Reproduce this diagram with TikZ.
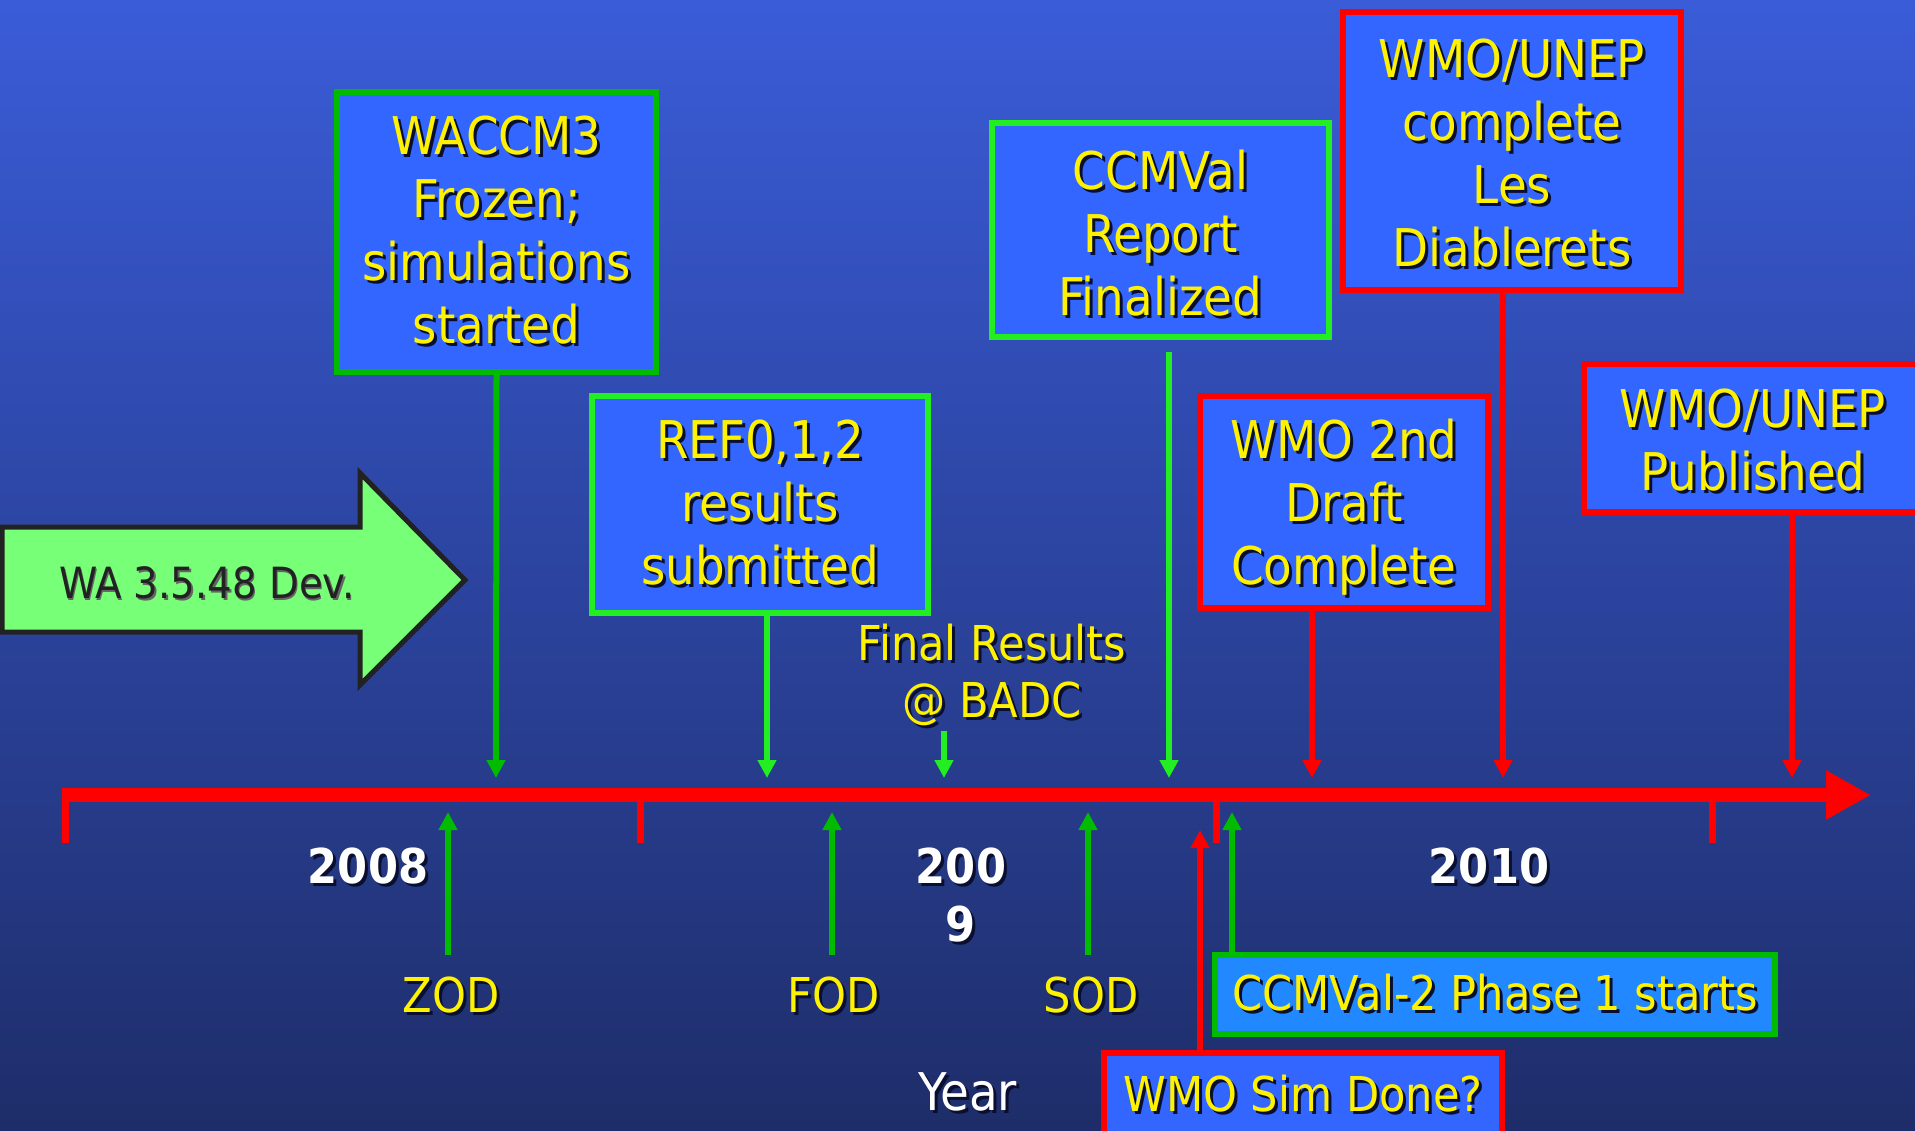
\documentclass[tikz,border=0pt]{standalone}
\usepackage{fontspec}
\setmainfont{DejaVu Sans Condensed}
\usetikzlibrary{arrows.meta}

\definecolor{bgtop}{HTML}{3A5CD8}
\definecolor{bgbot}{HTML}{1E2D69}
\definecolor{boxblue}{HTML}{3366FF}
\definecolor{lightblue}{HTML}{2288FF}
\definecolor{brightgreen}{HTML}{22EE22}
\definecolor{darkgreen}{HTML}{00BB00}
\definecolor{devgreen}{HTML}{77FF77}
\definecolor{devline}{HTML}{222222}
\definecolor{shadowc}{HTML}{0A0F30}

% text with a small drop shadow
\newcommand{\sh}[1]{\leavevmode\rlap{\kern1.5pt\raisebox{-1.5pt}{\textcolor{shadowc}{#1}}}#1}
\newcommand{\dsh}[1]{\leavevmode\rlap{\kern0.8pt\raisebox{-0.8pt}{\textcolor{devline!70}{#1}}}#1}

\tikzset{
  evt/.style={draw, line width=3pt, fill=boxblue, text=yellow, align=center,
    inner sep=0pt, font=\fontsize{26}{31.5}\selectfont},
  gevt/.style={evt, draw=brightgreen},
  devt/.style={evt, draw=darkgreen},
  revt/.style={evt, draw=red},
  lbl/.style={text=yellow, align=center, inner sep=1pt, font=\fontsize{24}{28.5}\selectfont},
  yr/.style={text=white, align=center, inner sep=1pt, font=\fontsize{24}{29}\selectfont\bfseries},
  arr/.style={line width=3pt, -{Triangle[width=9pt,length=9pt]}},
}

\begin{document}
\begin{tikzpicture}[x=0.5pt,y=-0.5pt]
\useasboundingbox (0,0) rectangle (1915,1130);
\fill[top color=bgtop, bottom color=bgbot] (0,0) rectangle (1915,1130);

% development arrow
\draw[fill=devgreen, draw=devline, line width=2.5pt]
  (2,527) -- (360,527) -- (360,473) -- (465,580) -- (360,685) -- (360,632) -- (2,632) -- cycle;
\node[text=devline, font=\fontsize{21.5}{26}\selectfont] (dev) at (207,584) {\dsh{WA 3.5.48 Dev.}};

% time line
\coordinate (tlL) at (62,795);
\coordinate (tlR) at (1871,795);
\draw[red, line width=7pt, -{Triangle[width=23pt,length=22.5pt]}] (tlL) -- (tlR);
\foreach \x in {65,640,1216,1712}
  \draw[red, line width=3.5pt] (\x,792) -- (\x,843);

% end points on the time line
\coordinate (d1) at (496,778);
\coordinate (d2) at (767,778);
\coordinate (d3) at (944,778);
\coordinate (d4) at (1169,778);
\coordinate (d5) at (1312,778);
\coordinate (d6) at (1503,778);
\coordinate (d7) at (1792,778);
\coordinate (u1) at (448,812);
\coordinate (u2) at (832,812);
\coordinate (u3) at (1088,812);
\coordinate (u4) at (1200,830);
\coordinate (u5) at (1232,812);

% events above
\node[devt, minimum width=159.5pt, minimum height=140pt] (waccm) at (496.5,232)
  {\sh{WACCM3}\\\sh{Frozen;}\\\sh{simulations}\\\sh{started}};
\node[gevt, minimum width=168pt, minimum height=108.5pt] (ref) at (760,504.5)
  {\sh{REF0,1,2}\\\sh{results}\\\sh{submitted}};
\node[lbl] (final) at (992,676) {\sh{Final Results}\\\sh{@ BADC}};
\node[gevt, minimum width=168.5pt, minimum height=107pt] (ccmval) at (1160.5,230)
  {\rule{0pt}{24pt}\sh{CCMVal}\\\sh{Report}\\\sh{Finalized}};
\node[revt, minimum width=169pt, minimum height=139pt] (les) at (1512,151)
  {\rule{0pt}{23pt}\sh{WMO/UNEP}\\\sh{complete}\\\sh{Les}\\\sh{Diablerets}};
\node[revt, minimum width=144pt, minimum height=106pt] (wmo2) at (1344,502)
  {\rule{0pt}{26pt}\sh{WMO 2nd}\\\sh{Draft}\\\sh{Complete}};
\node[revt, minimum width=169pt, minimum height=74pt] (pub) at (1753,438)
  {\rule{0pt}{23pt}\sh{WMO/UNEP}\\\sh{Published}};

\draw[arr, darkgreen] (waccm.south) -- (d1);
\draw[arr, brightgreen] (ref.south -| d2) -- (d2);
\draw[arr, brightgreen] (final.south -| d3) -- (d3);
\draw[arr, brightgreen] ([yshift=-6pt]ccmval.south -| d4) -- (d4);
\draw[arr, red] (wmo2.south -| d5) -- (d5);
\draw[arr, red] (les.south -| d6) -- (d6);
\draw[arr, red] (pub.south -| d7) -- (d7);

% years
\node[yr] (y08) at (368,868) {\sh{2008}};
\node[yr] (y09) at (961,897) {\sh{200}\\\sh{9}};
\node[yr] (y10) at (1489,868) {\sh{2010}};
\node[text=white, font=\fontsize{26}{30}\selectfont] (year) at (968,1093) {\sh{Year}};

% events below
\node[lbl] (zod) at (451,997) {\sh{ZOD}};
\node[lbl] (fod) at (834,997) {\sh{FOD}};
\node[lbl] (sod) at (1091,997) {\sh{SOD}};
\node[evt, draw=darkgreen, fill=lightblue, minimum width=280pt, minimum height=39.5pt,
  font=\fontsize{24}{28.5}\selectfont] (ccm2) at (1495,994.5) {\sh{CCMVal-2 Phase 1 starts}};
\node[revt, minimum width=199pt, minimum height=42pt,
  font=\fontsize{24}{28.5}\selectfont] (sim) at (1303,1095) {\sh{WMO Sim Done?}};

\draw[arr, darkgreen] ([yshift=10pt]zod.north -| u1) -- (u1);
\draw[arr, darkgreen] ([yshift=10pt]fod.north -| u2) -- (u2);
\draw[arr, darkgreen] ([yshift=10pt]sod.north -| u3) -- (u3);
\draw[arr, darkgreen] (ccm2.north -| u5) -- (u5);
\draw[arr, red] (sim.north -| u4) -- (u4);
\end{tikzpicture}
\end{document}
